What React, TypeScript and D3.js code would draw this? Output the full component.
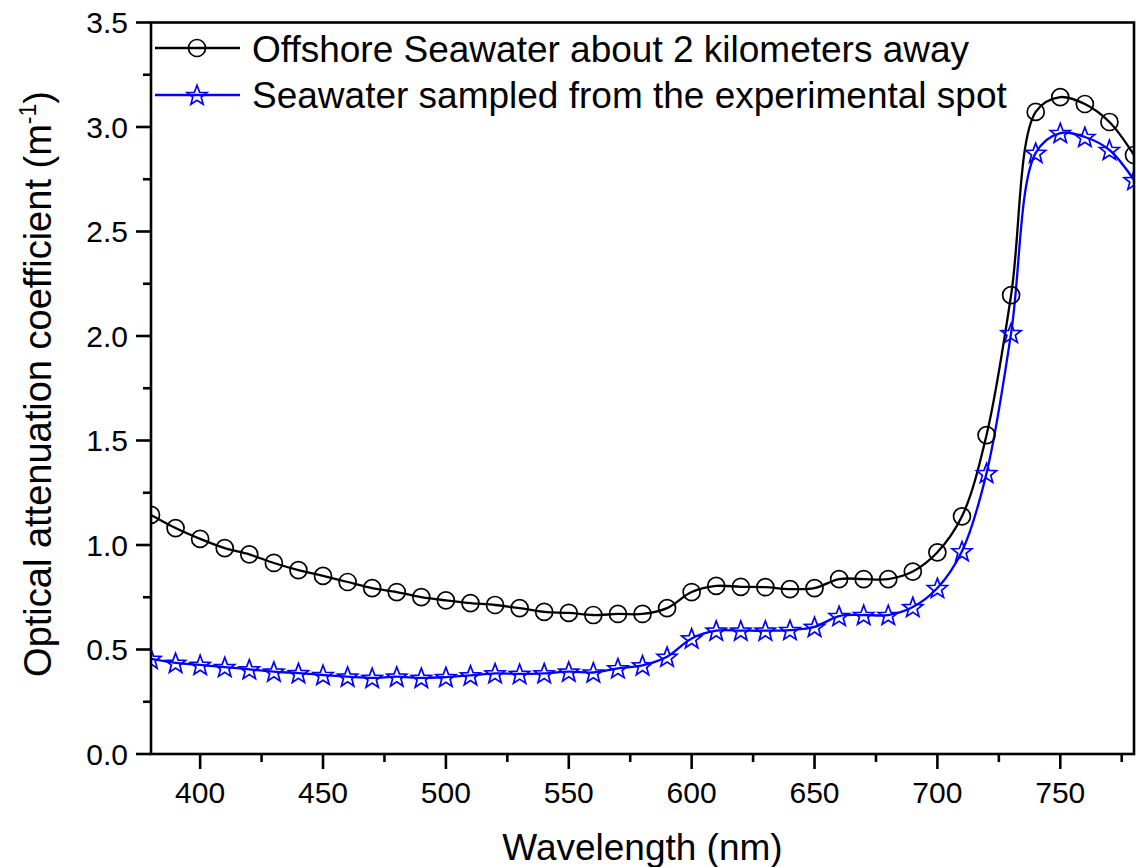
import React from "react";
import * as d3 from "d3";

const wavelengths = [380,390,400,410,420,430,440,450,460,470,480,490,500,510,520,530,540,550,560,570,580,590,600,610,620,630,640,650,660,670,680,690,700,710,720,730,740,750,760,770,780];
const offshore = [1.144,1.081,1.029,0.985,0.955,0.914,0.880,0.852,0.823,0.794,0.775,0.751,0.735,0.722,0.713,0.698,0.680,0.675,0.665,0.670,0.670,0.698,0.775,0.804,0.800,0.798,0.789,0.794,0.837,0.837,0.837,0.873,0.965,1.137,1.526,2.196,3.072,3.143,3.110,3.024,2.866];
const spot = [0.455,0.436,0.426,0.416,0.405,0.394,0.387,0.378,0.370,0.364,0.370,0.364,0.368,0.376,0.386,0.383,0.386,0.394,0.390,0.410,0.424,0.465,0.553,0.590,0.590,0.590,0.593,0.608,0.660,0.665,0.665,0.703,0.794,0.970,1.344,2.014,2.876,2.971,2.952,2.890,2.746];
const xTicks = [400,450,500,550,600,650,700,750];
const xMinor = [375,425,475,525,575,625,675,725,775];
const yTicks = [0,0.5,1.0,1.5,2.0,2.5,3.0,3.5];
const yMinor = [0.25,0.75,1.25,1.75,2.25,2.75,3.25];
const legendLabels = ["Offshore Seawater about 2 kilometers away","Seawater sampled from the experimental spot"];

const W = 1140, H = 867;
const L = 151, R = 1134, T = 22.5, B = 754;
const FONT = "Liberation Sans, Arial, Helvetica, sans-serif";
const BLUE = "#0000ff";

function starPath(cx: number, cy: number, ro: number, ri: number) {
  const pts: string[] = [];
  for (let i = 0; i < 10; i++) {
    const a = -Math.PI / 2 + (i * Math.PI) / 5;
    const r = i % 2 === 0 ? ro : ri;
    pts.push(`${(cx + r * Math.cos(a)).toFixed(2)},${(cy + r * Math.sin(a)).toFixed(2)}`);
  }
  return "M" + pts.join("L") + "Z";
}

export default function App() {
  const x = d3.scaleLinear().domain([380, 780]).range([L, R]);
  const y = d3.scaleLinear().domain([0, 3.5]).range([B, T]);
  const line = d3
    .line<number>()
    .x((_, i) => x(wavelengths[i]))
    .y((d) => y(d))
    .curve(d3.curveCatmullRom.alpha(0.5));

  return (
    <svg width={W} height={H} style={{ position: "absolute", left: 0, top: 0, background: "#fff" }} fontFamily={FONT}>
      <defs>
        <clipPath id="plot">
          <rect x={L} y={T} width={R - L} height={B - T} />
        </clipPath>
      </defs>
      <rect x={0} y={0} width={W} height={H} fill="#fff" />
      <g clipPath="url(#plot)">
        <path d={line(offshore) || ""} fill="none" stroke="#000" strokeWidth={2.3} />
        <path d={line(spot) || ""} fill="none" stroke={BLUE} strokeWidth={2.3} />
        {offshore.map((v, i) => (
          <circle key={"c" + i} cx={x(wavelengths[i])} cy={y(v)} r={8.5} fill="none" stroke="#000" strokeWidth={1.7} />
        ))}
        {spot.map((v, i) => (
          <path key={"s" + i} d={starPath(x(wavelengths[i]), y(v) + 0.8, 10.5, 4.4)} fill="none" stroke={BLUE} strokeWidth={1.7} />
        ))}
      </g>
      {/* frame */}
      <rect x={L} y={T} width={R - L} height={B - T} fill="none" stroke="#000" strokeWidth={2.6} />
      {/* x ticks */}
      {xTicks.map((t) => (
        <g key={"xt" + t}>
          <line x1={x(t)} x2={x(t)} y1={B} y2={B + 15} stroke="#000" strokeWidth={2.6} />
          <text x={x(t)} y={803} fontSize={30} textAnchor="middle">{t}</text>
        </g>
      ))}
      {xMinor.filter((t) => t > 380 && t < 780).map((t) => (
        <line key={"xm" + t} x1={x(t)} x2={x(t)} y1={B} y2={B + 8} stroke="#000" strokeWidth={2.6} />
      ))}
      {/* y ticks */}
      {yTicks.map((t) => (
        <g key={"yt" + t}>
          <line x1={L - 15} x2={L} y1={y(t)} y2={y(t)} stroke="#000" strokeWidth={2.6} />
          <text x={128} y={y(t)} dy="0.36em" fontSize={30} textAnchor="end">{t.toFixed(1)}</text>
        </g>
      ))}
      {yMinor.map((t) => (
        <line key={"ym" + t} x1={L - 8} x2={L} y1={y(t)} y2={y(t)} stroke="#000" strokeWidth={2.6} />
      ))}
      {/* axis titles */}
      <text x={(L + R) / 2} y={860} fontSize={37} textAnchor="middle">Wavelength (nm)</text>
      <text transform={`translate(51, 384) rotate(-90)`} fontSize={38} textAnchor="middle">
        Optical attenuation coefficient (m
        <tspan fontSize={23} dy={-15}>-1</tspan>
        <tspan dy={15}>)</tspan>
      </text>
      {/* legend */}
      <g>
        <line x1={155} x2={240} y1={48} y2={48} stroke="#000" strokeWidth={2.3} />
        <circle cx={197} cy={48} r={8.5} fill="none" stroke="#000" strokeWidth={1.7} />
        <text x={252} y={62} fontSize={37}>{legendLabels[0]}</text>
        <line x1={155} x2={240} y1={95} y2={95} stroke={BLUE} strokeWidth={2.3} />
        <path d={starPath(197, 95.8, 10.5, 4.4)} fill="none" stroke={BLUE} strokeWidth={1.7} />
        <text x={252} y={108} fontSize={37}>{legendLabels[1]}</text>
      </g>
    </svg>
  );
}
